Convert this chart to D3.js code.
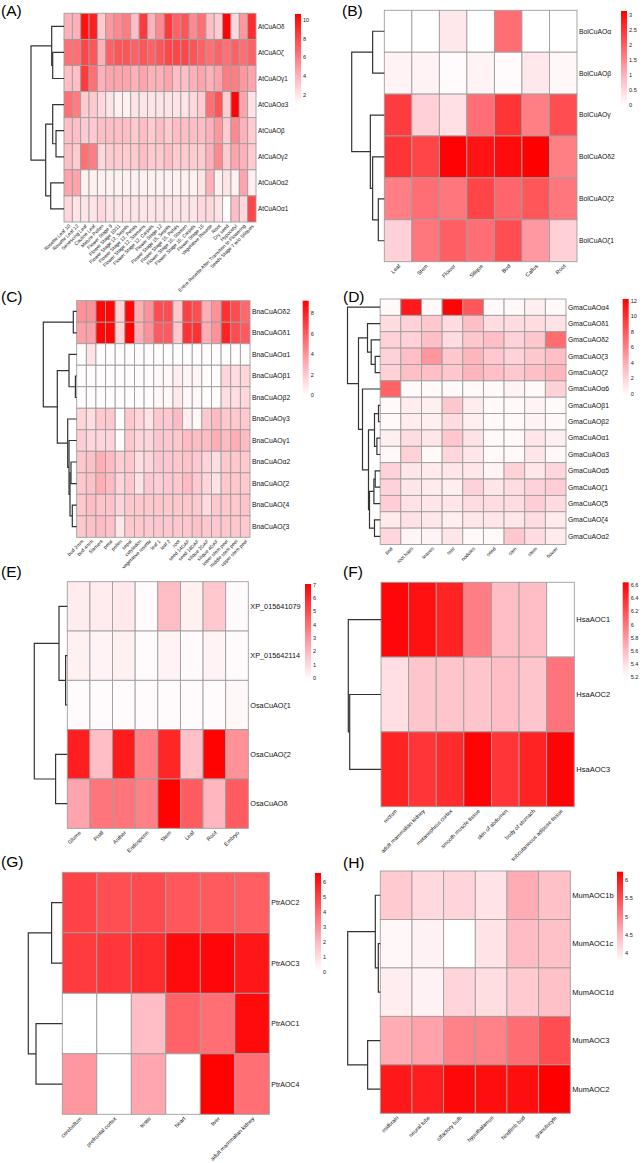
<!DOCTYPE html>
<html>
<head>
<meta charset="utf-8">
<script src="https://cdn.jsdelivr.net/npm/d3@7"></script>
<style>
  body { margin: 0; background: #fff; }
  svg { display: block; font-family: "Liberation Sans", Arial, sans-serif; }
</style>
</head>
<body>
<svg id="fig" width="642" height="1163"></svg>
<script>
// ---------- data ----------
// trees: [mergeHeight, left, right], leaves are row indexes

const aRows = ["AtCuAOδ", "AtCuAOζ", "AtCuAOγ1", "AtCuAOα3", "AtCuAOβ", "AtCuAOγ2", "AtCuAOα2", "AtCuAOα1"];
const aCols = ["Rosette Leaf 10", "Rosette Leaf 12", "Senescing Leaf", "Cauline Leaf", "Mature Pollen",
  "Flower Stage 9", "Flower Stage 10/11", "Flower Stage 12, Sepals", "Flower Stage 12, Petals",
  "Flower Stage 12, Stamens", "Flower Stage 12, Carpels", "Flower Stage 12", "Flower Stage 15, Sepals",
  "Flower Stage 15, Petals", "Flower Stage 15, Stamen", "Flower Stage 15, Carpels", "Flower Stage 15",
  "Vegetative Rosette", "Root", "Dry seed", "Hypocotyl", "Entire Rosette After Transition to Flowering",
  "Seeds Stage 7 w/o Siliques"];
const aValues = [
  [4, 4, 10, 9.5, 3, 5, 5.5, 6, 3.5, 8.5, 4, 5.5, 8.5, 7, 7.5, 5.5, 6.5, 3.5, 3, 10.5, 2.5, 5, 9],
  [6.5, 6.5, 8, 7.5, 4, 7, 7.5, 7.5, 7, 7.5, 7, 7.5, 8, 8, 8, 7.5, 7, 6.5, 7, 6.5, 7, 6.5, 7],
  [3.5, 3.5, 8.5, 6.5, 4, 4.5, 4.5, 4.5, 4, 4.5, 4, 4, 4.5, 3.5, 3.5, 4, 4.5, 4, 4.5, 6, 6, 5, 4.5],
  [6.5, 6, 3, 3, 2.5, 2, 1.5, 1.5, 2, 2, 2, 2, 2, 2, 2, 2.5, 3, 6.5, 7.5, 3, 10.5, 4.5, 2],
  [3.5, 3.5, 3, 3, 3.5, 3.5, 3.5, 3.5, 3, 3.5, 3, 3.5, 3, 3.5, 3.5, 3.5, 3.5, 4, 5, 3, 5.5, 4, 3],
  [3.5, 3, 6.5, 6, 2.5, 3, 3, 3, 3, 3.5, 3, 3, 3.5, 3, 3, 3, 3, 4, 5.5, 3, 4.5, 4, 3],
  [4.5, 4.5, 1.5, 1.5, 1.5, 1.5, 1.5, 1.5, 1.5, 1.5, 1.5, 1.5, 1.5, 1.5, 1.5, 1.5, 2, 4, 1.5, 2, 1.5, 4.5, 1.5],
  [2.5, 2, 2, 2, 2.5, 2, 2, 2, 2, 2, 2, 2, 2, 2, 2, 2, 2.5, 2.5, 2, 1, 3.5, 2.5, 8]
];
const aTree = [33, [12.3, 0, [11.3, 1, 2]], [18.3, [11.3, 3, [8, 4, 5]], [13.3, 6, 7]]];
const aTicks = [2, 4, 6, 8, 10];
const aRange = [0.9, 10.65];

const bRows = ["BolCuAOα", "BolCuAOβ", "BolCuAOγ", "BolCuAOδ2", "BolCuAOζ2", "BolCuAOζ1"];
const bCols = ["Leaf", "Stem", "Flower", "Silique", "Bud", "Callus", "Root"];
const bValues = [
  [0, 0, 0.3, 0, 1.8, 0, 0],
  [0.15, 0.15, 0.05, 0.15, 0.05, 0.3, 0.1],
  [2.4, 0.6, 0.4, 1.8, 2.5, 1.6, 2.2],
  [2.5, 2.3, 3.1, 2.9, 3.0, 3.13, 1.6],
  [1.6, 1.8, 1.7, 2.3, 1.9, 2.1, 1.7],
  [0.6, 1.7, 2.0, 1.8, 2.2, 1.3, 0.6]
];
const bTree = [32.7, [11.7, 0, 1], [14, 2, [11.7, 3, [6, 4, 5]]]];
const bTicks = [0, 0.5, 1, 1.5, 2, 2.5, 3];
const bRange = [0, 3.13];

const cRows = ["BnaCuAOδ2", "BnaCuAOδ1", "BnaCuAOα1", "BnaCuAOβ1", "BnaCuAOβ2", "BnaCuAOγ3", "BnaCuAOγ1",
  "BnaCuAOα2", "BnaCuAOζ2", "BnaCuAOζ4", "BnaCuAOζ3"];
const cCols = ["bud 2mm", "bud 4mm", "filament", "petal", "pollen", "sepal", "cotyledon", "vegetative rosette",
  "leaf 1", "leaf 2", "root", "seed 14DAF", "seed 18DAF", "silique 2DAF", "silique 4DAF", "lower stem peel",
  "middle stem peel", "upper stem peel"];
const cValues = [
  [4, 4, 9, 9, 1.5, 9, 3, 4, 6.5, 6.5, 2, 7, 6.5, 3, 4, 7.5, 6.5, 5.5],
  [3.5, 3.5, 9, 9, 1.5, 9.2, 3, 4, 6, 6, 2, 7.5, 7.5, 3, 4, 8, 6.5, 6],
  [0, 1, 0, 0, 0, 0, 0, 0, 0, 0, 0, 0, 0, 0, 0, 0, 0, 0],
  [0, 0, 0, 0, 0, 0, 0, 0, 0.2, 0.2, 0.6, 0.3, 0.3, 0, 0, 1.5, 1.3, 1.5],
  [0, 0, 0, 0, 0, 0, 0, 0, 0.2, 0.2, 0.8, 0.2, 0.2, 0, 0, 1.2, 1.2, 1.4],
  [1.5, 1.2, 2, 2, 0, 2, 1.5, 1, 2, 2, 2.5, 0.5, 0.2, 2, 2.5, 2, 2, 2],
  [1.8, 1.5, 1.5, 1.5, 0, 2, 1.5, 1.5, 2, 2, 2, 2.5, 2.5, 2.5, 3, 2.5, 3, 2.5],
  [2, 2.3, 3, 2.5, 1.8, 2, 1.2, 1.5, 2, 2, 2, 2.2, 2, 1.5, 1.2, 2, 2, 2],
  [2, 2.3, 3, 2.5, 1.5, 2, 1, 2, 1.8, 2, 2, 2.5, 2, 1.5, 1, 2, 2, 2],
  [2, 2.5, 2.2, 2.2, 1.5, 2, 2, 2, 2, 2, 2, 2, 2, 1.3, 2, 2, 2, 2.2],
  [2, 2.3, 2.5, 2.3, 0.8, 2, 2, 2, 2, 2, 2, 2, 2.3, 2, 2, 2, 2, 2]
];
const cTree = [33.4, [3.4, 0, 1], [19.4, [7.7, 2, [1.3, 3, 4]], [9, 5, [7.7, 6, [6.7, [5.7, 7, 8], [4.4, 9, 10]]]]]];
const cTicks = [0, 2, 4, 6, 8];
const cRange = [-0.1, 9.25];

const dRows = ["GmaCuAOα4", "GmaCuAOδ1", "GmaCuAOδ2", "GmaCuAOζ3", "GmaCuAOζ2", "GmaCuAOα6", "GmaCuAOβ1",
  "GmaCuAOβ2", "GmaCuAOα1", "GmaCuAOα3", "GmaCuAOα5", "GmaCuAOζ1", "GmaCuAOζ5", "GmaCuAOζ4", "GmaCuAOα2"];
const dCols = ["pod", "root hairs", "leaves", "root", "nodules", "seed", "sam", "stem", "flower"];
const dValues = [
  [0, 11, 0, 12, 8, 0, 0, 0.5, 0],
  [1.5, 2, 2.5, 1.5, 3, 1.5, 1.5, 1.5, 1.2],
  [2, 2, 3, 1.5, 2.5, 3, 2, 2.5, 7],
  [2, 3, 5, 2.5, 3.5, 2.5, 2, 2.5, 3],
  [2, 3, 3, 2.5, 3.5, 3, 2.5, 3, 3.5],
  [7.5, 0, 0, 0, 0, 0, 0.3, 0, 2],
  [0, 0.7, 0.5, 2.5, 0.7, 0, 0, 0.3, 0],
  [0, 0.7, 0.5, 1.5, 0.5, 0, 0, 0.3, 0],
  [0.5, 1.5, 1, 2.5, 1.2, 0, 0, 1, 0.5],
  [0, 2, 0, 1.8, 1, 0, 0, 1, 0],
  [2, 1, 0.8, 1, 1, 0.3, 2, 1, 1.8],
  [2, 1, 0.8, 0.5, 2, 1, 1.5, 2, 2.2],
  [2.2, 1.2, 1, 1, 1.5, 1.5, 1.5, 2.2, 1.5],
  [0.8, 1.2, 1, 0.5, 1, 1, 1, 1.5, 0.8],
  [1.8, 0.2, 0.3, 1, 0, 0, 2.5, 1.5, 0.8]
];
const dTree = [32.7, 0, [21.7, [12.7, 1, [9, 2, [5, 3, 4]]],
  [17.7, 5, [11.7, [5.7, [1.7, 6, 7], [3.3, 8, 9]], [10.7, [6.3, [5, 10, 11], 12], [5.7, 13, 14]]]]]];
const dTicks = [0, 2, 4, 6, 8, 10, 12];
const dRange = [-0.3, 12.2];

const eRows = ["XP_015641079", "XP_015642114", "OsaCuAOζ1", "OsaCuAOζ2", "OsaCuAOδ"];
const eCols = ["Glume", "Pistil", "Anther", "Endosperm", "Stem", "Leaf", "Root", "Embryo"];
const eValues = [
  [0.4, 0.4, 0.5, 0, 1.8, 0.3, 1.5, 0],
  [0.3, 0.2, 0.3, 0, 0.2, 0, 0.2, 0],
  [0, 0, 0, 0, 0, 0, 0, 0.1],
  [6.2, 1.8, 6.3, 3.5, 6, 1.7, 7, 3],
  [2.5, 3.8, 3.8, 3.5, 7, 4.5, 2, 4.5]
];
const eTree = [33, [8.3, 0, [1.7, 1, 2]], [11.7, 3, 4]];
const eTicks = [0, 1, 2, 3, 4, 5, 6, 7];
const eRange = [-0.15, 7.05];

const fRows = ["HsaAOC1", "HsaAOC2", "HsaAOC3"];
const fCols = ["rectum", "adult mammalian kidney", "metanephros cortex", "smooth muscle tissue",
  "skin of abdomen", "body of stomach", "subcutaneous adipose tissue"];
const fValues = [
  [6.6, 6.55, 6.45, 5.95, 5.6, 5.6, 5.2],
  [5.4, 5.55, 5.55, 5.55, 5.6, 5.55, 6.0],
  [6.45, 6.35, 6.4, 6.62, 6.35, 6.45, 6.62]
];
const fTree = [32.7, 0, [31.3, 1, 2]];
const fTicks = [5.2, 5.4, 5.6, 5.8, 6, 6.2, 6.4, 6.6];
const fRange = [5.21, 6.64];

const gRows = ["PtrAOC2", "PtrAOC3", "PtrAOC1", "PtrAOC4"];
const gCols = ["cerebellum", "prefrontal cortex", "testis", "heart", "liver", "adult mammalian kidney"];
const gValues = [
  [4.9, 4.6, 4.7, 4.4, 4.3, 4.2],
  [5.1, 5.2, 5.5, 6.3, 6.4, 6.0],
  [0, 0, 1.8, 4.1, 3.8, 6.3],
  [2.8, 0, 2.4, 0, 6.5, 3.8]
];
const gTree = [34, [10.7, 0, 1], [26.3, 2, 3]];
const gTicks = [0, 1, 2, 3, 4, 5, 6];
const gRange = [0.05, 6.58];

const hRows = ["MumAOC1b", "MumAOC1c", "MumAOC1d", "MumAOC3", "MumAOC2"];
const hCols = ["midbrain", "neural tube", "olfactory bulb", "hypothalamus", "hindlimb bud", "granulocyte"];
const hValues = [
  [4.3, 4.15, 4.2, 4.05, 4.6, 4.4],
  [3.85, 3.9, 3.77, 4.05, 4.45, 4.4],
  [3.95, 3.9, 4.2, 4.1, 4.3, 4.4],
  [4.6, 4.7, 5.0, 5.0, 5.2, 5.5],
  [6.0, 5.95, 6.15, 6.1, 6.1, 6.23]
];
const hTree = [32.7, [5, 0, [2, 1, 2]], [12.7, 3, 4]];
const hTicks = [4, 4.5, 5, 5.5, 6];
const hRange = [3.77, 6.23];

// ---------- layout ----------
const panels = [
  {tag: "(A)", tx: 1, ty: 16, rows: aRows, cols: aCols, values: aValues, tree: aTree, ticks: aTicks, range: aRange,
   hx: [64, 256], hy: [13.3, 222], dendX: 31, rowFont: 6.3, colFont: 4.9, lx: 295, ly: [14, 105]},
  {tag: "(B)", tx: 342, ty: 16, rows: bRows, cols: bCols, values: bValues, tree: bTree, ticks: bTicks, range: bRange,
   hx: [384.3, 577], hy: [10.3, 261.7], dendX: 351.7, rowFont: 6.8, colFont: 5.5, lx: 621, ly: [11, 105]},
  {tag: "(C)", tx: 1, ty: 302, rows: cRows, cols: cCols, values: cValues, tree: cTree, ticks: cTicks, range: cRange,
   hx: [76.7, 250], hy: [300.7, 537.3], dendX: 43.3, rowFont: 6.8, colFont: 4.9, lx: 302.7, ly: [300.7, 396]},
  {tag: "(D)", tx: 343, ty: 302, rows: dRows, cols: dCols, values: dValues, tree: dTree, ticks: dTicks, range: dRange,
   hx: [380.2, 566], hy: [299, 544.5], dendX: 347.5, rowFont: 6.8, colFont: 5, lx: 622.7, ly: [299, 396]},
  {tag: "(E)", tx: 1, ty: 577, rows: eRows, cols: eCols, values: eValues, tree: eTree, ticks: eTicks, range: eRange,
   hx: [67.3, 248.3], hy: [581.7, 828.3], dendX: 34.3, rowFont: 7.3, colFont: 5.5, lx: 305, ly: [584, 680]},
  {tag: "(F)", tx: 343, ty: 577, rows: fRows, cols: fCols, values: fValues, tree: fTree, ticks: fTicks, range: fRange,
   hx: [381, 574.3], hy: [582.3, 806.7], dendX: 348.3, rowFont: 7.5, colFont: 5.5, lx: 622.7, ly: [582.3, 676.7]},
  {tag: "(G)", tx: 1, ty: 867, rows: gRows, cols: gCols, values: gValues, tree: gTree, ticks: gTicks, range: gRange,
   hx: [62.3, 269.3], hy: [872.3, 1114.3], dendX: 28.3, rowFont: 7, colFont: 5.5, lx: 315, ly: [873, 971]},
  {tag: "(H)", tx: 343, ty: 868, rows: hRows, cols: hCols, values: hValues, tree: hTree, ticks: hTicks, range: hRange,
   hx: [380.3, 570.3], hy: [871, 1113.3], dendX: 347.7, rowFont: 7.5, colFont: 5.5, lx: 617, ly: [871.7, 961.7]}
];

// white -> pink -> red, pink stop a little blue-tinted like the original palette
const rampStops = [0, 0.3, 1];
const rampColors = ["#ffffff", "#ffb6bf", "#ff0000"];

const svg = d3.select("#fig");
const defs = svg.append("defs");
const fmt = d3.format("~g");

function drawPanel(p, idx) {
  const g = svg.append("g");

  const x = d3.scaleBand().domain(p.cols).range(p.hx);
  const y = d3.scaleBand().domain(p.rows).range(p.hy);
  const t = d3.scaleLinear().domain(p.range).range([0, 1]).clamp(true);
  const ramp = d3.scaleLinear().domain(rampStops).range(rampColors).interpolate(d3.interpolateRgb);
  const color = v => ramp(t(v));

  // cells
  const cells = [];
  p.values.forEach((row, i) => row.forEach((v, j) => cells.push({r: p.rows[i], c: p.cols[j], v: v})));
  g.selectAll(".cell")
    .data(cells)
    .join("rect")
    .classed("cell", true)
    .attr("x", d => x(d.c))
    .attr("y", d => y(d.r))
    .attr("width", x.bandwidth())
    .attr("height", y.bandwidth())
    .attr("fill", d => color(d.v))
    .attr("stroke", "#9e9e9e")
    .attr("stroke-width", 0.9);

  // row labels
  g.selectAll(".rowLab")
    .data(p.rows)
    .join("text")
    .attr("x", p.hx[1] + 2)
    .attr("y", d => y(d) + y.bandwidth() / 2)
    .attr("dy", "0.35em")
    .attr("font-size", p.rowFont)
    .attr("fill", "#111")
    .text(d => d);

  // column labels
  g.selectAll(".colLab")
    .data(p.cols)
    .join("text")
    .attr("transform", d => `translate(${x(d) + x.bandwidth() / 2}, ${p.hy[1] + 2}) rotate(-45)`)
    .attr("text-anchor", "end")
    .attr("dy", "0.7em")
    .attr("font-size", p.colFont)
    .attr("fill", "#111")
    .text(d => d);

  // dendrogram
  const hx = d3.scaleLinear().domain([0, p.tree[0]]).range([p.hx[0], p.dendX]);
  const segs = [];
  function walk(node) {
    if (typeof node === "number") return {y: y(p.rows[node]) + y.bandwidth() / 2, h: 0};
    const l = walk(node[1]);
    const r = walk(node[2]);
    const xx = hx(node[0]);
    segs.push(`M${hx(l.h)},${l.y}H${xx}V${r.y}H${hx(r.h)}`);
    return {y: (l.y + r.y) / 2, h: node[0]};
  }
  walk(p.tree);
  g.selectAll(".dend")
    .data(segs)
    .join("path")
    .attr("d", d => d)
    .attr("fill", "none")
    .attr("stroke", "#333")
    .attr("stroke-width", 1.2);

  // legend
  const gradId = "grad" + idx;
  const grad = defs.append("linearGradient")
    .attr("id", gradId)
    .attr("x1", 0).attr("y1", 1).attr("x2", 0).attr("y2", 0);
  rampStops.forEach((s, i) => grad.append("stop").attr("offset", s).attr("stop-color", rampColors[i]));

  const ls = d3.scaleLinear().domain(p.range).range([p.ly[1], p.ly[0]]);
  g.append("rect")
    .attr("x", p.lx)
    .attr("y", p.ly[0])
    .attr("width", 6)
    .attr("height", p.ly[1] - p.ly[0])
    .attr("fill", `url(#${gradId})`);
  g.selectAll(".tick")
    .data(p.ticks)
    .join("text")
    .attr("x", p.lx + 8)
    .attr("y", d => ls(d))
    .attr("dy", "0.35em")
    .attr("font-size", 5.6)
    .attr("fill", "#222")
    .text(d => fmt(d));

  // panel tag
  svg.append("text")
    .attr("x", p.tx)
    .attr("y", p.ty)
    .attr("font-size", 15.5)
    .attr("fill", "#000")
    .text(p.tag);
}

panels.forEach((p, i) => drawPanel(p, i));
</script>
</body>
</html>
